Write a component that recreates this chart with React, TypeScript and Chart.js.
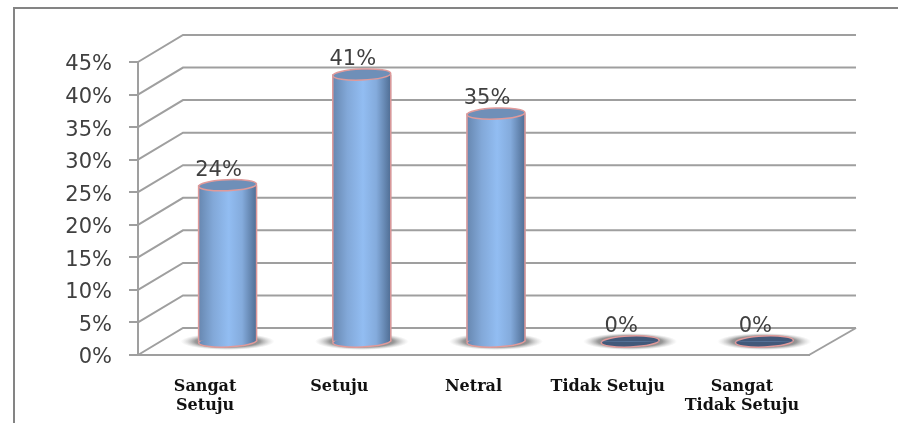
import React, { useEffect, useRef } from "react";
import { Chart, registerables } from "chart.js";

Chart.register(...registerables);

const categories: string[][] = [["Sangat", "Setuju"], ["Setuju"], ["Netral"], ["Tidak Setuju"], ["Sangat", "Tidak Setuju"]];
const values: number[] = [24, 41, 35, 0, 0];
const yMax = 45;
const yStep = 5;

const DX = 45;
const DY = 27;
const BAR_W = 58;
const RY = 5.5;
const TILT = -0.04;
const GRID = "#9f9f9f";
const EDGE = "#e09a9a";

function barGradient(c: CanvasRenderingContext2D, x: number) {
  const g = c.createLinearGradient(x - BAR_W / 2, 0, x + BAR_W / 2, 0);
  g.addColorStop(0, "#6787b0");
  g.addColorStop(0.25, "#82a8d8");
  g.addColorStop(0.52, "#92bdf2");
  g.addColorStop(0.75, "#84abdc");
  g.addColorStop(1, "#4f6d93");
  return g;
}

const scene = {
  id: "scene",
  beforeDatasetsDraw(chart: any) {
    const { ctx: c, scales: { x, y }, chartArea: a } = chart;
    c.save();
    // frame
    c.strokeStyle = "#848484";
    c.lineWidth = 2;
    c.beginPath();
    c.moveTo(14, 423);
    c.lineTo(14, 8);
    c.lineTo(898, 8);
    c.stroke();
    // walls
    c.strokeStyle = GRID;
    c.lineWidth = 2;
    y.ticks.forEach((t: any) => {
      const py = y.getPixelForValue(t.value);
      c.beginPath();
      c.moveTo(a.left, py);
      c.lineTo(a.left + DX, py - DY);
      c.lineTo(a.right + DX + 2, py - DY);
      c.stroke();
    });
    const base = y.getPixelForValue(0);
    c.beginPath();
    c.moveTo(a.right, base);
    c.lineTo(a.right + DX + 2, base - DY);
    c.stroke();
    // shadows and bottoms
    values.forEach((v, i) => {
      const px = x.getPixelForValue(i) + DX / 2;
      const py = base - DY / 2;
      c.save();
      c.translate(px, py);
      c.scale(1, 8.5 / 47);
      const g = c.createRadialGradient(0, 0, 18, 0, 0, 47);
      g.addColorStop(0, "rgba(85,85,85,0.95)");
      g.addColorStop(0.5, "rgba(120,120,120,0.75)");
      g.addColorStop(1, "rgba(190,190,190,0)");
      c.fillStyle = g;
      c.beginPath();
      c.arc(0, 0, 47, 0, Math.PI * 2);
      c.fill();
      c.restore();
      c.beginPath();
      c.ellipse(px, py, BAR_W / 2, RY, TILT, 0, Math.PI * 2);
      c.fillStyle = v === 0 ? "#42597a" : barGradient(c, px);
      c.fill();
      c.strokeStyle = EDGE;
      c.lineWidth = 1.5;
      c.stroke();
    });
    c.restore();
  },
  beforeDatasetDraw(chart: any) {
    chart.ctx.save();
    chart.ctx.translate(DX / 2, -DY / 2);
  },
  afterDatasetDraw(chart: any) {
    chart.ctx.restore();
    const { ctx: c, scales: { x, y } } = chart;
    const base = y.getPixelForValue(0) - DY / 2;
    c.save();
    values.forEach((v, i) => {
      const px = x.getPixelForValue(i) + DX / 2;
      const py = y.getPixelForValue(v) - DY / 2;
      if (v > 0) {
        c.strokeStyle = EDGE;
        c.lineWidth = 1.5;
        c.beginPath();
        c.moveTo(px - BAR_W / 2, py);
        c.lineTo(px - BAR_W / 2, base);
        c.moveTo(px + BAR_W / 2, py);
        c.lineTo(px + BAR_W / 2, base);
        c.stroke();
        c.beginPath();
        c.ellipse(px, py, BAR_W / 2, RY, TILT, 0, Math.PI * 2);
        c.fillStyle = "#6f8fb8";
        c.fill();
        c.lineWidth = 1.5;
        c.stroke();
      }
      c.fillStyle = "#404040";
      c.font = '21px "DejaVu Sans"';
      c.textAlign = "center";
      c.textBaseline = "middle";
      c.fillText(v + "%", px - 9, py - 15);
    });
    c.restore();
  },
};

export default function App() {
  const ref = useRef<HTMLCanvasElement>(null);
  useEffect(() => {
    const chart = new Chart(ref.current!, {
      type: "bar",
      data: {
        labels: categories,
        datasets: [
          {
            data: values,
            barThickness: BAR_W,
            borderWidth: 0,
            backgroundColor: (ctx: any) => {
              const s = ctx.chart.scales.x;
              const p = s ? s.getPixelForValue(ctx.dataIndex) : NaN;
              return Number.isFinite(p) ? barGradient(ctx.chart.ctx, p) : "#92bdf2";
            },
          },
        ],
      },
      options: {
        animation: false,
        responsive: false,
        layout: { padding: { top: 62, right: 89, left: 0, bottom: 0 } },
        plugins: { legend: { display: false }, tooltip: { enabled: false } },
        scales: {
          x: {
            afterFit: (s: any) => { s.height = 68; },
            grid: { display: false },
            border: { display: true, color: GRID, width: 2 },
            ticks: {
              maxRotation: 0,
              autoSkip: false,
              padding: 14,
              color: "#111111",
              font: { family: '"DejaVu Serif"', size: 16, weight: "bold", lineHeight: "19px" },
            },
          },
          y: {
            min: 0,
            max: yMax,
            afterFit: (s: any) => { s.width = 138; },
            grid: { drawOnChartArea: false, color: GRID, lineWidth: 2, tickLength: 9 },
            border: { display: true, color: GRID, width: 2 },
            ticks: {
              stepSize: yStep,
              padding: 17,
              labelOffset: 3,
              color: "#404040",
              font: { family: '"DejaVu Sans"', size: 21 },
              callback: (v: any) => v + "%",
            },
          },
        },
      },
      plugins: [scene],
    } as any);
    return () => chart.destroy();
  }, []);
  return (
    <div style={{ position: "absolute", left: 0, top: 0, width: 898, height: 423, background: "#fff" }}>
      <canvas ref={ref} width={898} height={423} style={{ display: "block", width: 898, height: 423, filter: "blur(0.6px)" }} />
    </div>
  );
}
